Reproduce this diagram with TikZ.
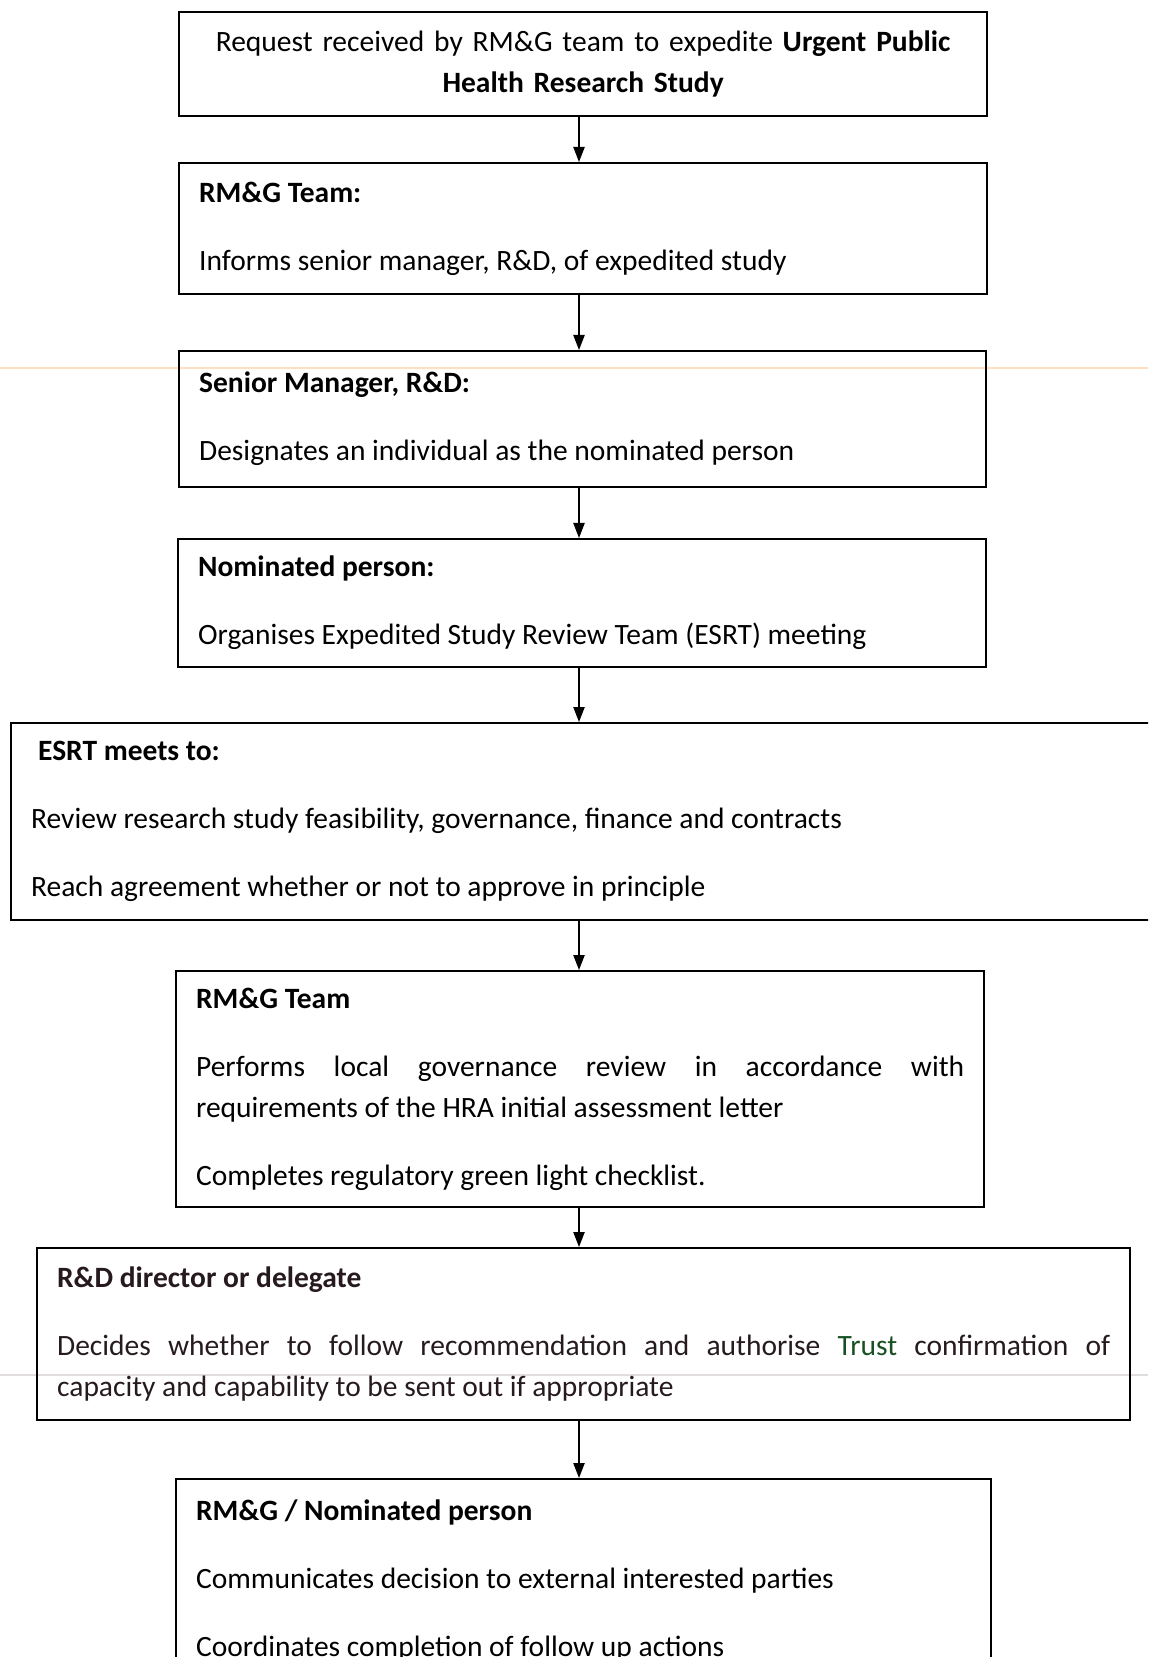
\documentclass[tikz,border=0pt]{standalone}
\usepackage{fontspec}
\setmainfont{Carlito}
\usetikzlibrary{arrows.meta}
\definecolor{trustgreen}{RGB}{25,80,35}
\definecolor{scanink}{RGB}{38,26,30}
\def\gap{\par\vspace{10.8pt}}

\begin{document}
\begin{tikzpicture}[x=0.4pt,y=-0.4pt,
	stepbox/.style 2 args={draw, line width=0.9pt, anchor=north west, inner xsep=8pt, inner ysep=0pt, text width=#1, minimum height=#2, align=justify, font=\fontsize{11.8}{16.4}\selectfont},
	flow/.style={line width=0.6pt, -{Triangle[length=6pt,width=4.5pt]}}]
		%%%%% START %%%%%
		\useasboundingbox (0,0) rectangle (1148,1657);
		\clip (0,0) rectangle (1148,1657);
		
		% faint scan lines
		\draw[orange!25, line width=1pt] (0,368) -- (1148,368);
		\draw[red!8!gray!25, line width=0.8pt] (0,1375) -- (1148,1375);
		
		\coordinate (axis) at (579,0);
		
		\node[stepbox={307.2pt}{41.6pt}, align=center] (request) at (178,11) {Request received by RM\&G team to expedite \textbf{Urgent Public}\\\textbf{Health Research Study}};
		
		\node[stepbox={307.2pt}{52.4pt}] (team) at (178,162) {\textbf{RM\&G Team:}\gap Informs senior manager, R\&D, of expedited study};
		
		\node[stepbox={306.8pt}{54.4pt}] (senior) at (178,350) {\textbf{Senior Manager, R\&D:}\gap Designates an individual as the nominated person};
		
		\node[stepbox={307.2pt}{51.2pt}] (nominated) at (177,538) {\textbf{Nominated person:}\gap Organises Expedited Study Review Team (ESRT) meeting};
		
		\node[stepbox={444pt}{78.8pt}] (esrt) at (10,722) {\hspace*{2.8pt}\textbf{ESRT meets to:}\gap Review research study feasibility, governance, finance and contracts\gap Reach agreement whether or not to approve in principle};
		
		\node[stepbox={307.2pt}{94.4pt}] (review) at (175,970) {\textbf{RM\&G Team}\gap Performs local governance review in accordance with\linebreak requirements of the HRA initial assessment letter\gap Completes regulatory green light checklist.};
		
		\node[stepbox={421.2pt}{68.8pt}, text=scanink] (director) at (36,1247) {\textbf{R\&D director or delegate}\gap Decides whether to follow recommendation and authorise {\color{trustgreen}Trust} confirmation of\linebreak capacity and capability to be sent out if appropriate};
		
		\node[stepbox={310pt}{80.8pt}] (comms) at (175,1478) {\textbf{RM\&G / Nominated person}\gap Communicates decision to external interested parties\gap Coordinates completion of follow up actions};
		
		\draw[flow] (request.south -| axis) -- (team.north -| axis);
		\draw[flow] (team.south -| axis) -- (senior.north -| axis);
		\draw[flow] (senior.south -| axis) -- (nominated.north -| axis);
		\draw[flow] (nominated.south -| axis) -- (esrt.north -| axis);
		\draw[flow] (esrt.south -| axis) -- (review.north -| axis);
		\draw[flow] (review.south -| axis) -- (director.north -| axis);
		\draw[flow] (director.south -| axis) -- (comms.north -| axis);
		%%%%% END %%%%%
\end{tikzpicture}
\end{document}
